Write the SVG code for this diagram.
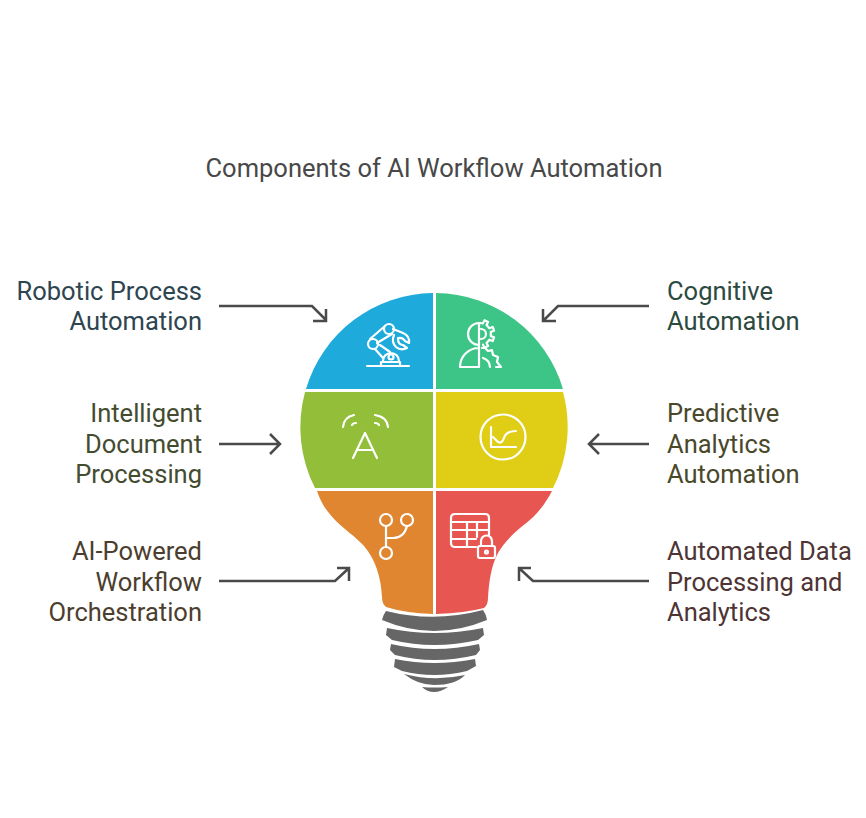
<svg xmlns="http://www.w3.org/2000/svg" width="866" height="818" viewBox="0 0 866 818">
<style>
text{font-family:Roboto,"Liberation Sans",sans-serif;font-size:25.500px}
.l{text-anchor:end}
.c{fill:none;stroke:#4a4a4a;stroke-width:2.5;stroke-linejoin:miter}
.i{fill:none;stroke:#fff;stroke-width:2.2;stroke-linecap:round;stroke-linejoin:round}
.s{fill:#666}
</style>
<rect width="866" height="818" fill="#fff"/>
<text id="title" x="434" y="177" text-anchor="middle" fill="#484848">Components of AI Workflow Automation</text>
<g id="connectors">
<path class="c" d="M219 306H312L326 320M326 309V321H313"/>
<path class="c" d="M649 306H558L544 320M543 309V321H556"/>
<path class="c" d="M219 444H279M270 434L280 444L270 454"/>
<path class="c" d="M649 444H590M599 434L589 444L599 454"/>
<path class="c" d="M219 581H335L348 569M337 568H349V581"/>
<path class="c" d="M649 581H533L520 569M531 568H519V581"/>
</g>
<g id="bulb-base">
<path class="s" d="M386 611Q434 623 483 610Q486 614 487 620Q434 642 382 620Q383 615 386 611Z"/>
<path class="s" d="M387 628Q434 638 483 628L484 635L478 640Q434 650 392 640L386 635Z"/>
<path class="s" d="M391 644Q434 654 479 644L480 650L476 655Q434 665 395 655L390 650Z"/>
<path class="s" d="M395 659Q434 667 475 659L476 666L467 671Q434 679 402 671L394 667Z"/>
<path class="s" d="M404 674Q434 682 465 675Q456 685 434 685Q418 685 404 674Z"/>
<path class="s" d="M422 687Q434 688 448 687Q441 692 434 692T422 687Z"/>
</g>
<g id="robotic">
<path fill="#1eaadb" d="M433 293V389H306A134 134 0 0 1 433 293Z"/>
<path class="i" d="M367 366H409M381 366V362H400V366M383 361A8 8 0 0 1 399 361M370 339L385 326M377 343L392 334M375 349L383 358M380 345L390 352"/>
<circle class="i" cx="373" cy="344" r="5"/>
<circle class="i" cx="389" cy="329" r="5"/>
<circle class="i" cx="391" cy="357" r="2.500"/>
<path class="i" d="M393 329L403 333Q410 336 409 343L405 341Q403 337 398 338M394 335Q391 342 396 347Q401 351 407 348L403 345Q398 345 398 338"/>
</g>
<g id="cognitive">
<path fill="#3cc587" d="M436 293A134 134 0 0 1 563 389H436Z"/>
<path class="i" d="M479 323V367H460A19 19 0 0 1 479 348M479 323A11 11 0 0 0 479 345"/>
<path class="i" d="M480 323L483 323.400L484.500 320.200L488.100 322L486.500 325.100L489.400 328.300L492.700 327L494.100 330.700L490.800 331.900L490.800 336.100L494.100 337.300L492.700 341L489.400 339.700L486.500 342.900L488.100 346L484.500 347.800L483 344.600"/>
<path class="i" d="M481 329A5 5 0 0 1 481 339M483 358A10 10 0 0 1 490 367M482 348H485L488 351L492 350L493 355L498 357L497 362L501 367H496"/>
</g>
<g id="intelligent">
<path fill="#92be3a" d="M433 392V488H315A134 134 0 0 1 305 392Z"/>
<path class="i" d="M353 458L365 433L377 458M358 450H372M343 427Q344 417 354 415M352 425Q353 423 356 423M388 427Q387 417 375 415M379 425Q378 423 375 423"/>
</g>
<g id="predictive">
<path fill="#e0cd15" d="M436 392H563A134 134 0 0 1 553 488H436Z"/>
<circle class="i" cx="503" cy="437" r="22.500"/>
<path class="i" d="M491 427V447H516M493 437L498 442Q502 444 504 438Q506 431 516 431"/>
</g>
<g id="workflow">
<path fill="#e08530" d="M317 491H433V614Q405 613 386 607Q382 604 382 597C381 578 376 560 364 546C355 536 345 530 336 521C327 512 321 503 317 491Z"/>
<circle class="i" cx="386" cy="520" r="6"/><circle class="i" cx="407" cy="520" r="6"/><circle class="i" cx="386" cy="553" r="6"/>
<path class="i" d="M386 526V547M386 538H393Q404 538 407 526"/>
</g>
<g id="data">
<path fill="#e85652" d="M436 491H552C546 503 536 516 525 524C515 532 505 541 498 553C491 566 489 582 488 598Q488 605 484 608Q465 613 436 614Z"/>
<path class="i" d="M476 547H455Q451 547 451 543V518Q451 514 455 514H485Q489 514 489 518V535M451 522H489M451 530H489M451 539H476M467 522V547M477 522V537"/>
<rect class="i" x="478" y="546" width="17" height="12" rx="2"/>
<path class="i" d="M481 546V541A5.500 5.500 0 0 1 492 541V546"/>
<circle class="i" cx="486.500" cy="552" r="1.500"/>
</g>
<g id="label-robotic" fill="#2e4550"><text class="l" x="202" y="300">Robotic Process</text><text class="l" x="202" y="330">Automation</text></g>
<g id="label-cognitive" fill="#2d4a40"><text x="667" y="300">Cognitive</text><text x="667" y="330">Automation</text></g>
<g id="label-intelligent" fill="#444c30"><text class="l" x="202" y="422">Intelligent</text><text class="l" x="202" y="453">Document</text><text class="l" x="202" y="483">Processing</text></g>
<g id="label-predictive" fill="#4a482a"><text x="667" y="422">Predictive</text><text x="667" y="453">Analytics</text><text x="667" y="483">Automation</text></g>
<g id="label-workflow" fill="#4c3e2e"><text class="l" x="202" y="560">AI-Powered</text><text class="l" x="202" y="591">Workflow</text><text class="l" x="202" y="621">Orchestration</text></g>
<g id="label-data" fill="#4e3434"><text x="667" y="560">Automated Data</text><text x="667" y="591">Processing and</text><text x="667" y="621">Analytics</text></g>
</svg>
